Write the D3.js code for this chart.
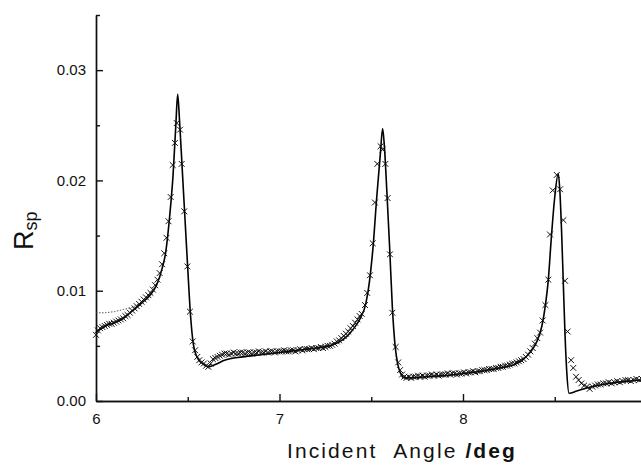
<!DOCTYPE html>
<html>
<head>
<meta charset="utf-8">
<script src="https://cdn.jsdelivr.net/npm/d3@7"></script>
<style>
  body { margin: 0; background: #fff; }
  svg { display: block; font-family: "Liberation Sans", Arial, sans-serif; }
  .axis path, .axis line { stroke: #111; stroke-width: 1.4; }
  .axis text { font-size: 15px; fill: #111; }
</style>
</head>
<body>
<div id="chart"></div>
<script>
// measured points (crosses)
var crossAngle = [6.000,6.010,6.022,6.035,6.048,6.060,6.072,6.085,6.097,6.110,6.122,6.135,6.148,6.160,6.172,6.185,6.197,6.210,6.222,6.235,6.248,6.260,6.272,6.285,6.297,6.310,6.322,6.335,6.347,6.360,6.372,6.384,6.395,6.407,6.418,6.430,6.440,6.458,6.467,6.481,6.498,6.512,6.527,6.540,6.552,6.563,6.575,6.588,6.600,6.612,6.625,6.637,6.650,6.662,
  6.675,6.687,6.700,6.712,6.725,6.737,6.750,6.762,6.775,6.787,6.800,6.812,6.825,6.837,6.850,6.862,6.875,6.887,6.900,6.912,6.925,6.937,6.950,6.962,6.975,6.987,7.000,7.012,7.025,7.037,7.050,7.062,7.075,7.087,7.100,7.112,7.125,7.137,7.150,7.162,7.175,7.187,7.200,7.212,7.225,7.237,7.250,7.262,7.275,7.287,7.300,7.312,7.325,7.337,7.350,7.362,7.375,7.387,7.400,7.412,7.425,7.437,7.448,7.466,7.478,7.493,7.508,7.520,7.533,7.551,7.562,7.577,7.589,7.602,7.615,7.633,7.647,7.657,7.668,7.680,7.692,
  7.705,7.717,7.730,7.742,7.755,7.767,7.780,7.792,7.805,7.817,7.830,7.842,7.855,7.867,7.880,7.892,7.905,7.917,7.930,7.942,7.955,7.967,7.980,7.992,8.005,8.017,8.030,8.042,8.055,8.067,8.080,8.092,8.105,8.117,8.130,8.142,8.155,8.167,8.180,8.192,8.205,8.217,8.230,8.242,8.255,8.267,8.280,8.292,8.305,8.317,8.330,8.342,8.355,8.367,8.380,8.392,8.405,8.420,8.434,8.449,8.465,8.474,8.489,8.511,8.529,8.547,8.556,8.570,8.589,8.601,8.616,8.630,8.645,8.660,8.675,8.690,8.705,8.720,8.735,8.750,8.765,8.780,8.795,8.810,8.825,8.840,8.855,8.870,8.885,8.900,8.915,8.930,8.945,8.960,8.975];
var crossR = [0.0060,0.0064,0.0066,0.0067,0.0068,0.0069,0.0070,0.0070,0.0071,0.0072,0.0073,0.0074,0.0075,0.0077,0.0078,0.0080,0.0082,0.0084,0.0086,0.0088,0.0090,0.0092,0.0094,0.0096,0.0098,0.0101,0.0105,0.0110,0.0116,0.0124,0.0134,0.0148,0.0163,0.0185,0.0214,0.0234,0.0252,0.0246,0.0215,0.0172,0.0122,0.0081,0.0054,0.0046,0.0040,0.0037,0.0035,0.0034,0.0032,0.0031,0.0034,0.0038,0.0039,0.0040,
  0.0041,0.0042,0.0043,0.0043,0.0042,0.0043,0.0044,0.0043,0.0043,0.0044,0.0044,0.0043,0.0044,0.0044,0.0043,0.0044,0.0044,0.0045,0.0044,0.0044,0.0045,0.0044,0.0045,0.0045,0.0044,0.0045,0.0045,0.0045,0.0046,0.0045,0.0045,0.0046,0.0046,0.0045,0.0046,0.0047,0.0046,0.0047,0.0047,0.0047,0.0048,0.0047,0.0048,0.0048,0.0049,0.0048,0.0049,0.0050,0.0050,0.0051,0.0052,0.0054,0.0055,0.0057,0.0059,0.0061,0.0063,0.0066,0.0068,0.0071,0.0074,0.0077,0.0079,0.0087,0.0098,0.0114,0.0143,0.0180,0.0215,0.0231,0.0228,0.0215,0.0184,0.0133,0.0080,0.0049,0.0035,0.0028,0.0024,0.0022,0.0021,
  0.0022,0.0021,0.0022,0.0022,0.0023,0.0022,0.0023,0.0022,0.0023,0.0023,0.0024,0.0023,0.0024,0.0023,0.0024,0.0024,0.0024,0.0025,0.0024,0.0025,0.0025,0.0024,0.0025,0.0025,0.0026,0.0025,0.0026,0.0026,0.0027,0.0026,0.0027,0.0027,0.0028,0.0028,0.0028,0.0029,0.0029,0.0029,0.0030,0.0030,0.0031,0.0031,0.0032,0.0032,0.0033,0.0034,0.0034,0.0035,0.0036,0.0037,0.0038,0.0040,0.0042,0.0045,0.0048,0.0052,0.0057,0.0062,0.0073,0.0087,0.0110,0.0151,0.0191,0.0205,0.0192,0.0164,0.0109,0.0063,0.0037,0.0030,0.0022,0.0019,0.0016,0.0014,0.0013,0.0011,0.0013,0.0014,0.0015,0.0015,0.0016,0.0016,0.0017,0.0016,0.0017,0.0018,0.0017,0.0018,0.0019,0.0019,0.0018,0.0019,0.0020,0.0019,0.0020];

// fitted curve (solid)
var fitAngle = [6.00,6.05,6.10,6.15,6.20,6.25,6.30,6.33,6.36,6.38,6.40,6.42,6.435,6.445,6.455,6.47,6.485,6.50,6.515,6.53,6.55,6.58,6.61,6.65,6.70,6.80,6.90,7.00,7.10,7.20,7.27,7.32,7.37,7.41,7.44,7.47,7.49,7.51,7.53,7.55,7.562,7.572,7.585,7.60,7.615,7.63,7.645,7.66,7.68,7.72,7.80,7.90,8.00,8.10,8.20,8.28,8.33,8.37,8.40,8.43,8.45,8.465,8.48,8.50,8.519,8.528,8.537,8.547,8.556,8.566,8.578,8.62,8.70,8.80,8.90,8.97];
var fitR = [0.0062,0.0068,0.0071,0.0075,0.0082,0.0089,0.0097,0.0105,0.0120,0.0135,0.0165,0.0205,0.0250,0.0278,0.0255,0.0210,0.0165,0.0120,0.0078,0.0052,0.0040,0.0034,0.0031,0.0033,0.0037,0.0040,0.0042,0.0044,0.0046,0.0048,0.0050,0.0053,0.0059,0.0067,0.0075,0.0088,0.0108,0.0140,0.0185,0.0225,0.0247,0.0230,0.0190,0.0140,0.0085,0.0050,0.0033,0.0025,0.0021,0.0021,0.0022,0.0023,0.0025,0.0027,0.0030,0.0033,0.0038,0.0045,0.0053,0.0068,0.0088,0.0110,0.0145,0.0185,0.0206,0.0190,0.0155,0.0105,0.0060,0.0025,0.0007,0.0009,0.0013,0.0016,0.0018,0.0019];

// dotted curve at the low-angle end
var dotAngle = [6.00,6.05,6.10,6.15,6.20,6.23];
var dotR = [0.0080,0.0080,0.0081,0.0083,0.0085,0.0088];

var xMajor = [6, 7, 8];
var xMinor = [6.5, 7.5, 8.5];
var yMajor = [0, 0.01, 0.02, 0.03];
var yMinor = [0.005, 0.015, 0.025, 0.035];

var width = 641, height = 466;

var svg = d3.select("#chart").append("svg")
    .attr("width", width)
    .attr("height", height);

var x = d3.scaleLinear().domain([6, 9]).range([96, 646.5]);
var y = d3.scaleLinear().domain([0, 0.035]).range([401, 15]);

// axes
svg.append("g")
    .attr("class", "axis")
    .attr("transform", "translate(0," + y(0) + ")")
    .call(d3.axisBottom(x).tickValues(xMinor).tickSizeInner(-4).tickSizeOuter(0).tickFormat(""));
svg.append("g")
    .attr("class", "axis")
    .attr("transform", "translate(0," + y(0) + ")")
    .call(d3.axisBottom(x).tickValues(xMajor).tickSizeInner(-7).tickSizeOuter(0).tickPadding(12).tickFormat(d3.format("d")));

svg.append("g")
    .attr("class", "axis")
    .attr("transform", "translate(" + x(6) + ",0)")
    .call(d3.axisLeft(y).tickValues(yMinor).tickSizeInner(-4).tickSizeOuter(0).tickFormat(""));
svg.append("g")
    .attr("class", "axis")
    .attr("transform", "translate(" + x(6) + ",0)")
    .call(d3.axisLeft(y).tickValues(yMajor).tickSizeInner(-7).tickSizeOuter(0).tickPadding(10).tickFormat(d3.format(".2f")));

// lines
var line = d3.line()
    .x(function(d) { return x(d[0]); })
    .y(function(d) { return y(d[1]); });

svg.append("path")
    .datum(dotAngle.map(function(a, i) { return [a, dotR[i]]; }))
    .attr("d", line)
    .attr("fill", "none")
    .attr("stroke", "#444")
    .attr("stroke-width", 0.9)
    .attr("stroke-dasharray", "1.5,1.5");

svg.append("path")
    .datum(fitAngle.map(function(a, i) { return [a, fitR[i]]; }))
    .attr("d", line.curve(d3.curveMonotoneX))
    .attr("fill", "none")
    .attr("stroke", "#000")
    .attr("stroke-width", 1.6);

// crosses
var cross = d3.symbol().type(d3.symbolTimes).size(24);
svg.append("g").selectAll("path")
    .data(crossAngle.map(function(a, i) { return [a, crossR[i]]; }))
  .enter().append("path")
    .attr("transform", function(d) { return "translate(" + x(d[0]) + "," + y(d[1]) + ")"; })
    .attr("d", cross)
    .attr("fill", "none")
    .attr("stroke", "#111")
    .attr("stroke-width", 1);

// labels
svg.append("text")
    .attr("x", 287)
    .attr("y", 458)
    .style("font-size", "21px")
    .style("letter-spacing", "2.1px")
    .attr("fill", "#111")
    .html("Incident&#160;&#160;Angle <tspan font-weight='bold'>/deg</tspan>");

var yl = svg.append("text")
    .attr("transform", "translate(33,250) rotate(-90)")
    .attr("fill", "#111");
yl.append("tspan").style("font-size", "27px").text("R");
yl.append("tspan").style("font-size", "18px").attr("dy", "4").text("sp");
</script>
</body>
</html>
